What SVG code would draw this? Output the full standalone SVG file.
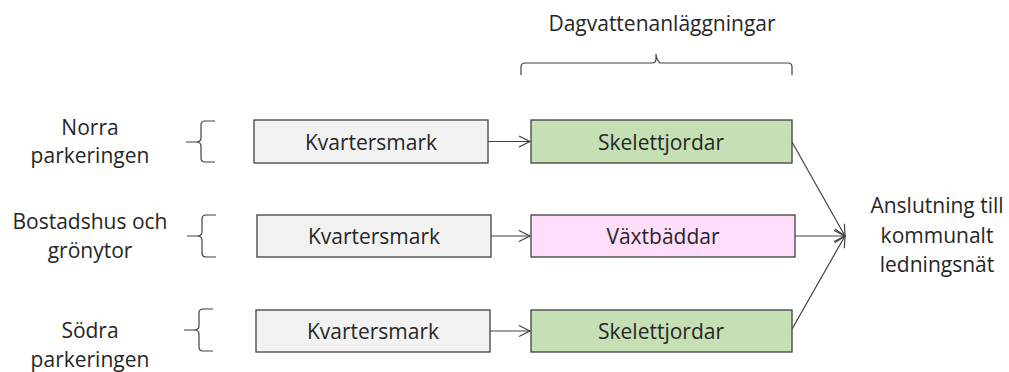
<svg xmlns="http://www.w3.org/2000/svg" width="1009" height="372" viewBox="0 0 1009 372">
<defs>
<marker id="ah" markerWidth="14" markerHeight="14" refX="12" refY="7" orient="auto" markerUnits="userSpaceOnUse">
<path d="M1,1.5 L12,7 L1,12.5" fill="none" stroke="#404040" stroke-width="1.2"/>
</marker>
</defs>
<style>
text{font-family:"Open Sans","Liberation Sans",sans-serif;font-size:21px;fill:#262626;text-anchor:middle}
.box{stroke:#404040;stroke-width:1.3}
.grey{fill:#F2F2F2}
.green{fill:#C5E0B4}
.pink{fill:#FFDDFB}
.br{fill:none;stroke:#404040;stroke-width:1.2}
.con{fill:none;stroke:#404040;stroke-width:1.2;marker-end:url(#ah)}
</style>
<rect width="1009" height="372" fill="#ffffff"/>
<g id="title">
<text x="662" y="31">Dagvattenanläggningar</text>
<path class="br" d="M521,75 L521,67 Q521,63 525,63 L652,63 Q656,63 656,59 L656,54 Q656,59 660,63 L788,63 Q792,63 792,67 L792,75"/>
</g>
<g id="label-norra">
<text x="90" y="135">Norra</text>
<text x="90" y="163">parkeringen</text>
<path class="br" d="M215,121 L205,121 Q201,121 201,125 L201,138 Q201,142 196,142 L186,142 L196,142 Q201,142 201,146 L201,158 Q201,162 205,162 L215,162"/>
</g>
<g id="label-bostad">
<text x="90" y="229">Bostadshus och</text>
<text x="90" y="258">grönytor</text>
<path class="br" d="M216,215 L206,215 Q202,215 202,219 L202,232 Q202,236 197,236 L187,236 L197,236 Q202,236 202,240 L202,253 Q202,257 206,257 L216,257"/>
</g>
<g id="label-sodra">
<text x="90" y="338">Södra</text>
<text x="90" y="367">parkeringen</text>
<path class="br" d="M213,309 L203,309 Q199,309 199,313 L199,326 Q199,330 194,330 L184,330 L194,330 Q199,330 199,334 L199,347 Q199,351 203,351 L213,351"/>
</g>
<g id="kv1"><rect class="box grey" x="254" y="120" width="234" height="43"/><text x="371" y="150">Kvartersmark</text></g>
<g id="kv2"><rect class="box grey" x="257" y="215" width="234" height="42"/><text x="374" y="244">Kvartersmark</text></g>
<g id="kv3"><rect class="box grey" x="256" y="310" width="234" height="42"/><text x="373" y="339">Kvartersmark</text></g>
<g id="sk1"><rect class="box green" x="531" y="120" width="261" height="43"/><text x="661" y="150">Skelettjordar</text></g>
<g id="vx"><rect class="box pink" x="531" y="215" width="264" height="42"/><text x="663" y="244">Växtbäddar</text></g>
<g id="sk3"><rect class="box green" x="531" y="310" width="261" height="42"/><text x="661" y="339">Skelettjordar</text></g>
<g id="anslutning">
<text x="937" y="213">Anslutning till</text>
<text x="937" y="243">kommunalt</text>
<text x="937" y="272">ledningsnät</text>
</g>
<g id="connectors">
<path class="con" d="M488,141.5 L530,141.5"/>
<path class="con" d="M491,236 L530,236"/>
<path class="con" d="M490,331 L530,331"/>
<path class="con" d="M792,142 L845,236"/>
<path class="con" d="M795,236 L845,236"/>
<path class="con" d="M792,329 L845,236"/>
</g>
</svg>
